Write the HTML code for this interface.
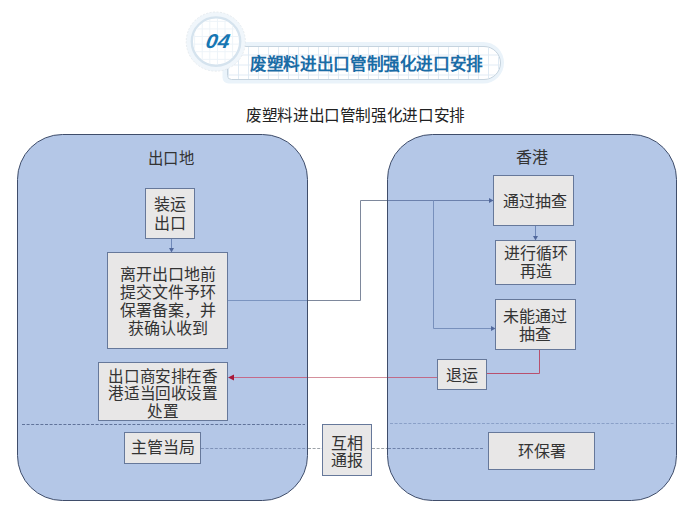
<!DOCTYPE html>
<html lang="zh-CN"><head><meta charset="utf-8">
<style>
html,body{margin:0;padding:0;background:#fff;width:697px;height:530px;overflow:hidden;}
body{position:relative;font-family:"Liberation Sans",sans-serif;color:#1c1c1c;}
svg{position:absolute;left:0;top:0;}
.t{position:absolute;font-size:16px;line-height:18px;text-align:center;white-space:nowrap;color:#333;}
.b{position:absolute;box-sizing:border-box;background:#e8e7e7;border:1px solid #66789a;display:flex;align-items:center;justify-content:center;text-align:center;font-size:16px;line-height:18px;color:#333;}
</style></head><body>
<svg width="697" height="530" viewBox="0 0 697 530">
  <defs>
    <pattern id="grid" width="10" height="10" patternUnits="userSpaceOnUse" x="-1" y="-4.5">
      <path d="M9.5 0V10M0 9.5H10" fill="none" stroke="#e0ebf4" stroke-width="1"/>
    </pattern>
    <pattern id="grid2" width="7.6" height="7.6" patternUnits="userSpaceOnUse" x="-2.5" y="-1">
      <path d="M7.1 0V7.6M0 7.1H7.6" fill="none" stroke="#edf3f8" stroke-width="1"/>
    </pattern>
  </defs>
  <!-- banner -->
  <path d="M228.5 42 H483.25 A20.75 20.75 0 0 1 483.25 83.5 H228.5 A6 6 0 0 1 222.5 77.5 V48 A6 6 0 0 1 228.5 42 Z" fill="#eaf3fa"/>
  <path d="M231.5 46.5 H484 A16.5 16.5 0 0 1 484 79.5 H231.5 A4 4 0 0 1 227.5 75.5 V50.5 A4 4 0 0 1 231.5 46.5 Z" fill="#fff" stroke="#c5d3de" stroke-width="1"/>
  <path d="M231.5 47 H484 A16 16 0 0 1 484 79 H231.5 A3.5 3.5 0 0 1 228 75.5 V50.5 A3.5 3.5 0 0 1 231.5 47 Z" fill="url(#grid)"/>
  <circle cx="215.8" cy="41.6" r="29.6" fill="#f0f6fb" stroke="#dfe5ea" stroke-width="0.7" stroke-dasharray="2 1.5"/>
  <circle cx="216" cy="41.6" r="24.2" fill="#fff" stroke="#d5e3ee" stroke-width="2.4"/>
  <circle cx="216" cy="41.6" r="22.8" fill="url(#grid2)"/>
  <!-- big boxes -->
  <rect x="17.5" y="134.5" width="290" height="366" rx="45" fill="#b4c7e7" stroke="#3f4d6a" stroke-width="1"/>
  <rect x="387.5" y="134.5" width="289" height="366" rx="45" fill="#b4c7e7" stroke="#3f4d6a" stroke-width="1"/>
  <!-- separators -->
  <line x1="22" y1="424.5" x2="305" y2="424.5" stroke="#60739a" stroke-width="1" stroke-dasharray="3 1.6"/>
  <line x1="390" y1="423.5" x2="674" y2="423.5" stroke="#8aa0c8" stroke-width="1" stroke-dasharray="3 1.6"/>
  <!-- dashed connectors -->
  <line x1="201" y1="448.5" x2="307" y2="448.5" stroke="#7f92b8" stroke-width="1" stroke-dasharray="3 1.6"/>
  <line x1="308" y1="448.5" x2="322" y2="448.5" stroke="#9ca2a8" stroke-width="1" stroke-dasharray="3 1.6"/>
  <line x1="372" y1="448.5" x2="387" y2="448.5" stroke="#9ca2a8" stroke-width="1" stroke-dasharray="3 1.6"/>
  <line x1="388" y1="448.5" x2="484" y2="448.5" stroke="#6f82aa" stroke-width="1" stroke-dasharray="3 1.6"/>
  <!-- blue connectors -->
  <g fill="none" stroke-width="1">
  <line x1="171.5" y1="238" x2="171.5" y2="249" stroke="#6f88b8"/>
  <line x1="228" y1="300.5" x2="307" y2="300.5" stroke="#7b94c0"/>
  <polyline points="308,300.5 360.5,300.5 360.5,200.5 387,200.5" stroke="#7e889c"/>
  <line x1="388" y1="200.5" x2="490" y2="200.5" stroke="#6b80ac"/>
  <polyline points="433.5,200.5 433.5,328.5 492,328.5" stroke="#7890bc"/>
  <line x1="535.5" y1="225" x2="535.5" y2="237" stroke="#6f88b8"/>
  <polyline points="539.5,350 539.5,373.5 487,373.5" stroke="#b8506e"/>
  <line x1="437" y1="377.5" x2="388" y2="377.5" stroke="#c06a88"/>
  <line x1="387" y1="377.5" x2="308" y2="377.5" stroke="#d4909c"/>
  <line x1="307" y1="377.5" x2="232" y2="377.5" stroke="#c46a8a"/>
  </g>
  <g>
  <path d="M169 248 L174 248 L171.5 252.5 Z" fill="#51689c"/>
  <path d="M489 198 L489 203 L493.5 200.5 Z" fill="#51689c"/>
  <path d="M491 326 L491 331 L495.5 328.5 Z" fill="#51689c"/>
  <path d="M533 236 L538 236 L535.5 240.5 Z" fill="#51689c"/>
  <path d="M234 374.5 L234 380.5 L228 377.5 Z" fill="#a8183a"/>
  </g>
</svg>

<div class="t" style="left:205.8px;top:31.2px;font-size:20px;line-height:21px;font-weight:bold;font-style:italic;color:#1777b3;letter-spacing:0.4px;transform-origin:0 50%;transform:scaleX(1.05) skewX(-9deg);">04</div>
<div class="t" style="left:250px;top:54.8px;font-size:17px;transform-origin:0 0;transform:scaleX(0.979);line-height:20px;font-weight:bold;color:#1a6ca6;">废塑料进出口管制强化进口安排</div>
<div class="t" style="left:246px;top:105.6px;font-size:16px;transform-origin:0 0;transform:scaleX(0.977);line-height:20px;color:#222;">废塑料进出口管制强化进口安排</div>

<div class="t" style="left:147.5px;top:149.5px;font-size:16px;transform-origin:0 0;transform:scaleX(0.96);">出口地</div>
<div class="t" style="left:516px;top:149px;">香港</div>

<div class="b" style="left:145px;top:188px;width:50px;height:51px;line-height:19px;">装运<br>出口</div>
<div class="b" style="left:107px;top:252px;width:121px;height:97px;line-height:18px;padding-top:2px;">离开出口地前<br>提交文件予环<br>保署备案，并<br>获确认收到</div>
<div class="b" style="left:98px;top:362px;width:130px;height:59px;line-height:17.3px;padding-top:5px;"><span style="display:inline-block;transform:scaleX(0.975)">出口商安排在香<br>港适当回收设置<br>处置</span></div>
<div class="b" style="left:124px;top:432px;width:77px;height:32px;">主管当局</div>
<div class="b" style="left:322px;top:424px;width:50px;height:52px;line-height:17.5px;padding-top:4px;">互相<br>通报</div>

<div class="b" style="left:493px;top:175px;width:81px;height:51px;padding:3px 0 0 2px;">通过抽查</div>
<div class="b" style="left:495px;top:240px;width:81px;height:45px;">进行循环<br>再造</div>
<div class="b" style="left:495px;top:299px;width:81px;height:51px;padding:2px 1px 0 0;line-height:17.5px;">未能通过<br>抽查</div>
<div class="b" style="left:437px;top:359px;width:50px;height:31px;padding-top:2px;">退运</div>
<div class="b" style="left:488px;top:432px;width:107px;height:38px;padding-top:2px;">环保署</div>
</body></html>
